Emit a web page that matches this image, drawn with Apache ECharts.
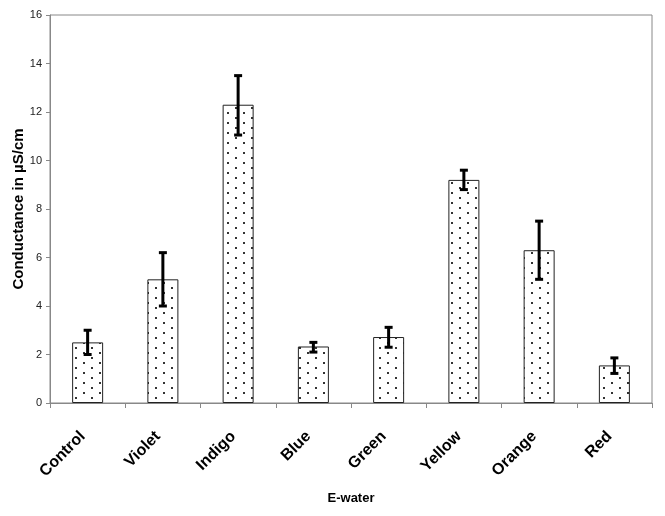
<!DOCTYPE html>
<html><head><meta charset="utf-8">
<script src="https://cdn.jsdelivr.net/npm/echarts@6/dist/echarts.min.js"></script>
<style>html,body{margin:0;padding:0;background:#fff}#c{width:665px;height:516px}</style>
</head><body><div id="c"></div>
<script>
const categories = ['Control','Violet','Indigo','Blue','Green','Yellow','Orange','Red'];
const values = [2.5, 5.1, 12.3, 2.33, 2.72, 9.2, 6.3, 1.55];
const errLow = [2.0, 4.0, 11.05, 2.1, 2.3, 8.8, 5.1, 1.22];
const errHigh = [3.0, 6.2, 13.5, 2.5, 3.12, 9.6, 7.5, 1.86];
const yTicks = [0, 2, 4, 6, 8, 10, 12, 14, 16];

const cv = document.createElement('canvas');
cv.width = 16; cv.height = 10;
const g = cv.getContext('2d');
g.fillStyle = '#fff'; g.fillRect(0,0,16,10);
g.fillStyle = '#333';
g.fillRect(3,2,2,2);
g.fillRect(11,7,2,2);

const chart = echarts.init(document.getElementById('c'), null, {renderer:'canvas'});
const font = 'Liberation Sans, Arial, sans-serif';
chart.setOption({
  animation: false,
  grid: {left: 50, right: 13, top: 15, bottom: 113, containLabel: false, outerBoundsMode: 'none',
         show: true, borderColor: '#888', borderWidth: 1, backgroundColor: '#fff'},
  xAxis: {
    type: 'category', data: categories,
    name: 'E-water', nameLocation: 'middle', nameGap: 89,
    nameTextStyle: {fontFamily: font, fontWeight: 'bold', fontSize: 13, color: '#000'},
    axisLine: {lineStyle: {color: '#888', width: 1}},
    axisTick: {show: true, alignWithLabel: false, length: 5, lineStyle: {color: '#888'}},
    axisLabel: {rotate: 45, margin: 26, padding: [0, 7, 0, 0], fontFamily: font, fontWeight: 'bold', fontSize: 16, color: '#000'}
  },
  yAxis: {
    type: 'value', min: yTicks[0], max: yTicks[yTicks.length-1], interval: 2,
    name: 'Conductance in µS/cm', nameLocation: 'middle', nameGap: 24, nameMoveOverlap: false,
    nameTextStyle: {fontFamily: font, fontWeight: 'bold', fontSize: 15, color: '#000'},
    axisLine: {show: true, lineStyle: {color: '#888', width: 1}},
    axisTick: {show: true, length: 4, lineStyle: {color: '#888'}},
    splitLine: {show: false},
    axisLabel: {fontFamily: font, fontSize: 11, color: '#222', margin: 8}
  },
  series: [
    {
      type: 'bar', data: values, barWidth: 31,
      itemStyle: {color: {image: cv, repeat: 'repeat'}, borderColor: '#222', borderWidth: 1}
    },
    {
      type: 'custom', data: categories.map((c,i)=>[i, errLow[i], errHigh[i]]),
      z: 10,
      renderItem: function(params, api){
        const x = api.value(0);
        const lo = api.coord([x, api.value(1)]);
        const hi = api.coord([x, api.value(2)]);
        const st = {stroke: '#000', lineWidth: 3};
        const w = 4;
        return {type: 'group', children: [
          {type:'line', shape:{x1:lo[0], y1:lo[1], x2:hi[0], y2:hi[1]}, style: st},
          {type:'line', shape:{x1:lo[0]-w, y1:lo[1], x2:lo[0]+w, y2:lo[1]}, style: st},
          {type:'line', shape:{x1:hi[0]-w, y1:hi[1], x2:hi[0]+w, y2:hi[1]}, style: st}
        ]};
      }
    }
  ]
});
</script></body></html>
